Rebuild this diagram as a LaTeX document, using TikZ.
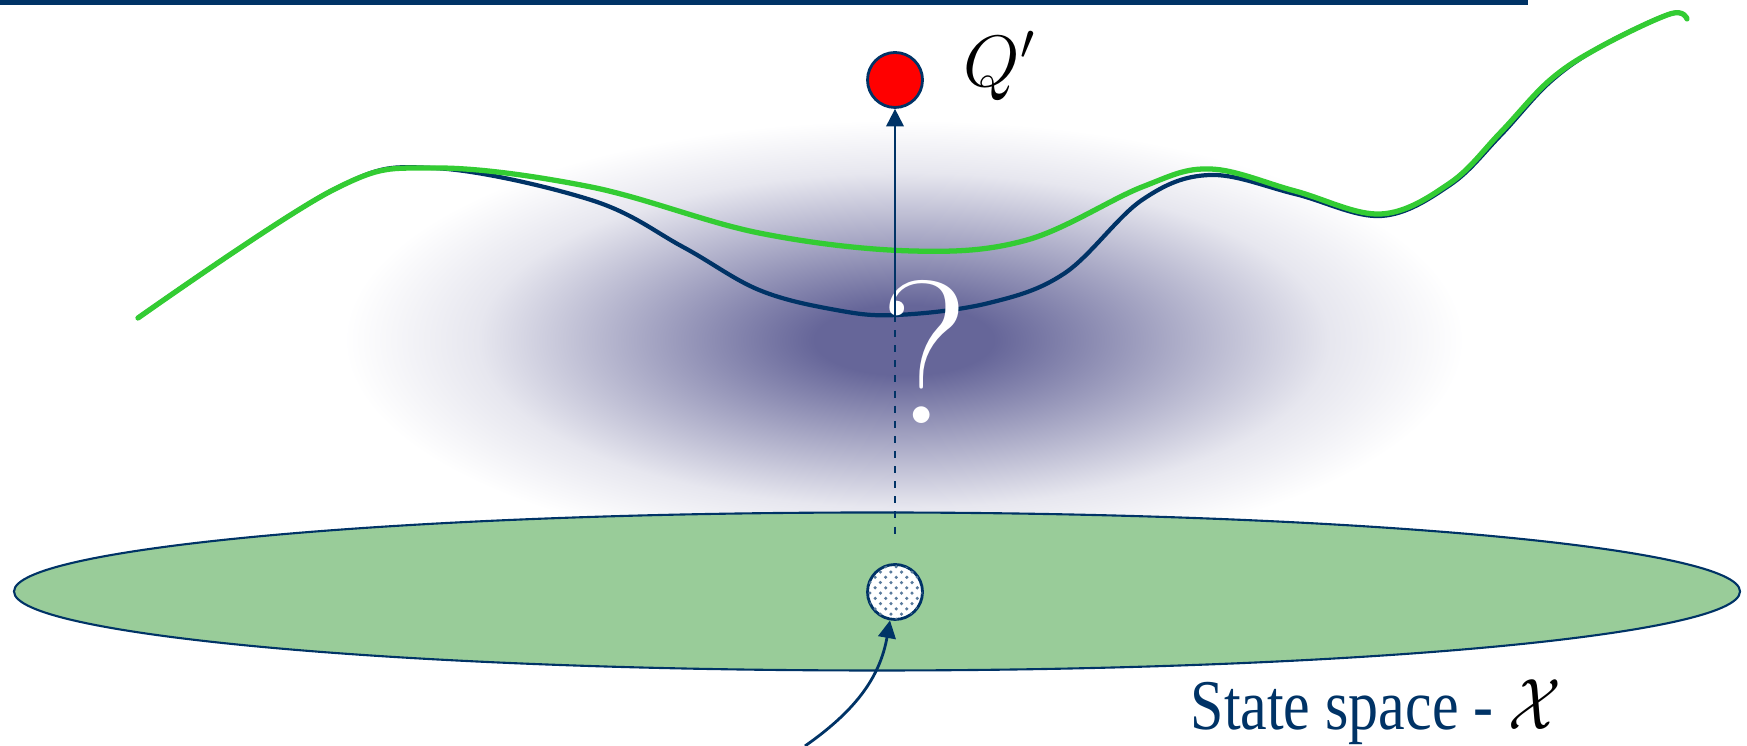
\documentclass[tikz,border=0pt]{standalone}
\usepackage{fontspec}
\setmainfont{Liberation Serif}
\newfontfamily\qfont{Latin Modern Roman}
\usepackage{xcolor}
\usetikzlibrary{arrows.meta,patterns}

\definecolor{navy}{HTML}{003366}
\definecolor{leaf}{HTML}{33CC33}
\definecolor{field}{HTML}{99CC99}
\definecolor{haze}{HTML}{666699}
\colorlet{hazemid}{haze!55!white}
\colorlet{hazeout}{haze!16!white}
\pgfdeclareradialshading{hazeblob}{\pgfpoint{0bp}{0bp}}{%
  color(0bp)=(haze); color(4bp)=(haze); color(12bp)=(hazemid);
  color(19bp)=(hazeout); color(25bp)=(white); color(50bp)=(white)}

\begin{document}
\begin{tikzpicture}[
  >=Stealth,
  dot/.style   = {circle, draw=navy, line width=0.8pt, minimum size=0.55cm,
                  inner sep=0pt},
  arr/.style   = {-{Triangle[length=5pt,width=5pt]}, draw=navy, line width=0.6pt},
  darr/.style  = {draw=navy, line width=0.6pt, dash pattern=on 2pt off 2.3pt},
  curve/.style = {line width=1.2pt, line join=round, line cap=round},
  lbl/.style   = {inner sep=0pt}
]
\useasboundingbox (0,0) rectangle (17.47,7.46);

%%% ---- BACKGROUND ----
\fill[navy] (0,7.41) rectangle (15.28,7.46);
\shade[shading=hazeblob] (9.04,4.06) ellipse [x radius=5.6, y radius=2.2];

%%% ---- STATE SPACE ----
\draw[navy, fill=field, line width=0.6pt] (8.77,1.545) ellipse [x radius=8.63, y radius=0.79];

%%% ---- CURVES ----
\draw[curve, navy] plot[smooth, tension=0.6] coordinates {(1.38,4.28) (3.33,5.56)
  (4.33,5.78) (5.91,5.46) (6.83,4.99) (7.59,4.56) (8.36,4.36) (8.97,4.31)
  (9.89,4.43) (10.65,4.73) (11.42,5.46) (12.10,5.71) (12.95,5.52) (13.81,5.30)
  (14.50,5.61) (15.00,6.10) (15.50,6.64) (16.00,6.99) (16.70,7.32) (16.87,7.27)};
\draw[curve, leaf, line width=1.5pt] plot[smooth, tension=0.6] coordinates {(1.38,4.28)
  (3.33,5.56) (4.33,5.78) (5.91,5.59) (7.59,5.13) (9.12,4.95) (10.27,5.06)
  (11.42,5.59) (12.10,5.77) (12.95,5.55) (13.81,5.32) (14.50,5.63) (15.00,6.13)
  (15.50,6.66) (16.00,6.99) (16.70,7.32) (16.87,7.27)};

%%% ---- NODES ----
\node[dot, fill=red]                                   (qprime) at (8.95,6.66) {};
\node[lbl, font=\huge]                                 (qlabel) at (10.00,6.80) {$Q'$};
\node[dot, fill=white, postaction={pattern=crosshatch dots, pattern color=navy!65}]
                                                       (sample) at (8.95,1.54) {};
\node[lbl, text=white, font=\qfont\fontsize{58}{58}\selectfont] (qmark) at (9.25,3.94) {?};
\node[lbl, anchor=base west, text=navy, font=\fontsize{20.3}{24}\selectfont]
                                                       (space)  at (11.90,0.16)
  {\scalebox{0.84}[1]{State space - \textcolor{black}{$\mathcal{X}$}}};

\coordinate (curvemin) at (8.95,4.31);
\coordinate (dashend)  at (8.95,2.11);
\coordinate (query)    at (8.05,0);

%%% ---- CONNECT ----
\draw[arr]  (curvemin) -- (qprime);
\draw[darr] (curvemin) -- (dashend);
\draw[arr, line width=0.8pt] (query) to[out=35, in=-100] (sample);
\end{tikzpicture}
\end{document}
